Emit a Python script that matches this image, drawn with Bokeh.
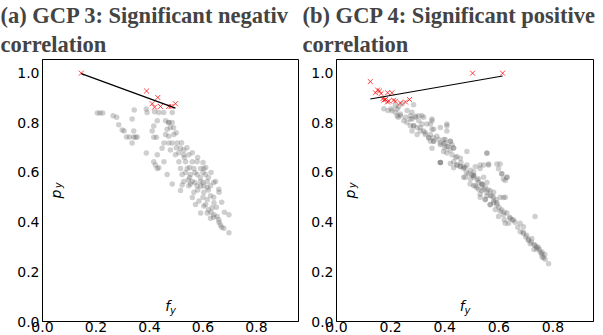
import numpy as np
from bokeh.plotting import figure
from bokeh.layouts import row
from bokeh.models import Title, FixedTicker, PrintfTickFormatter, Range1d
from bokeh.embed import file_html
from bokeh.resources import INLINE
from bokeh.core.properties import value

# ---------------- data: panel (a) GCP 3 ----------------
a_gray_x = [0.205, 0.215, 0.225, 0.264, 0.277, 0.285, 0.298, 0.305, 0.314, 0.325, 0.341, 0.348, 0.354,
            0.335, 0.335, 0.343, 0.341, 0.388, 0.388, 0.391, 0.41, 0.416, 0.426, 0.416, 0.429,
            0.419, 0.435, 0.453, 0.485, 0.472, 0.429, 0.416, 0.422, 0.435,
            0.46, 0.472, 0.485, 0.478, 0.466, 0.491, 0.472, 0.46, 0.454, 0.472, 0.485, 0.504,
            0.447, 0.478, 0.516, 0.528, 0.497, 0.528, 0.547, 0.454, 0.51, 0.535, 0.56, 0.578,
            0.429, 0.516, 0.541, 0.566, 0.591, 0.603, 0.466, 0.522, 0.553, 0.578, 0.609,
            0.528, 0.56, 0.591, 0.616, 0.647, 0.547, 0.578, 0.603, 0.628,
            0.485, 0.522, 0.553, 0.591, 0.616, 0.659, 0.516, 0.566, 0.603, 0.628,
            0.56, 0.585, 0.616, 0.641, 0.572, 0.603, 0.634, 0.591, 0.616, 0.641, 0.653, 0.697,
            0.628, 0.659, 0.665, 0.678, 0.697,
            0.55, 0.57, 0.58, 0.6, 0.61, 0.62, 0.63, 0.64, 0.57, 0.59, 0.6, 0.62, 0.55, 0.53, 0.51,
            0.5, 0.535, 0.545, 0.66, 0.67, 0.6, 0.62, 0.64, 0.65, 0.5, 0.49, 0.52, 0.54, 0.56, 0.58,
            0.6, 0.61, 0.63, 0.64, 0.66, 0.67, 0.68]
a_gray_y = [0.84, 0.84, 0.84, 0.829, 0.822, 0.792, 0.771, 0.767, 0.743, 0.743, 0.743, 0.742, 0.743,
            0.719, 0.815, 0.852, 0.767, 0.678, 0.856, 0.842, 0.767, 0.742, 0.742, 0.787, 0.808,
            0.845, 0.842, 0.842, 0.842, 0.801, 0.671, 0.643, 0.63, 0.619,
            0.808, 0.801, 0.801, 0.781, 0.774, 0.753, 0.746, 0.753, 0.719, 0.719, 0.719, 0.719,
            0.698, 0.691, 0.698, 0.691, 0.671, 0.671, 0.671, 0.643, 0.643, 0.643, 0.643, 0.643,
            0.616, 0.616, 0.616, 0.616, 0.616, 0.616, 0.592, 0.592, 0.592, 0.592, 0.592,
            0.564, 0.564, 0.564, 0.564, 0.564, 0.547, 0.547, 0.547, 0.547,
            0.554, 0.55, 0.554, 0.545, 0.54, 0.533, 0.527, 0.52, 0.52, 0.506,
            0.499, 0.485, 0.49, 0.478, 0.471, 0.465, 0.458, 0.437, 0.437, 0.43, 0.423, 0.43,
            0.416, 0.41, 0.389, 0.375, 0.357,
            0.58, 0.56, 0.53, 0.5, 0.47, 0.45, 0.44, 0.42, 0.6, 0.58, 0.56, 0.53, 0.62, 0.66, 0.68,
            0.7, 0.6, 0.57, 0.4, 0.38, 0.6, 0.58, 0.5, 0.46, 0.76, 0.78, 0.72, 0.7, 0.68, 0.66,
            0.64, 0.62, 0.6, 0.56, 0.52, 0.48, 0.44]
a_red_x = [0.145, 0.389, 0.41, 0.419, 0.431, 0.441, 0.472, 0.481, 0.497]
a_red_y = [1.0, 0.928, 0.877, 0.863, 0.902, 0.866, 0.866, 0.866, 0.877]

# ---------------- data: panel (b) GCP 4 ----------------
b_gray_x = [0.175, 0.19, 0.202, 0.218, 0.23, 0.224, 0.228, 0.236, 0.243, 0.285, 0.261, 0.279,
            0.255, 0.273, 0.292, 0.304, 0.316, 0.273, 0.285, 0.298, 0.316, 0.353, 0.408,
            0.31, 0.328, 0.347, 0.341, 0.359, 0.371, 0.359, 0.384, 0.396, 0.402, 0.421, 0.408,
            0.433, 0.427, 0.396, 0.414, 0.384, 0.384, 0.384,
            0.421, 0.445, 0.458, 0.433, 0.47, 0.476, 0.488, 0.507, 0.476, 0.531, 0.562, 0.556,
            0.593, 0.605, 0.599, 0.611, 0.617, 0.63, 0.494, 0.513, 0.525, 0.537,
            0.531, 0.55, 0.568, 0.581, 0.593, 0.581, 0.605, 0.624,
            0.322, 0.334, 0.322, 0.353, 0.359, 0.384, 0.408, 0.408, 0.341, 0.359, 0.378, 0.384,
            0.402, 0.421, 0.433, 0.396, 0.408, 0.427, 0.445, 0.458, 0.482, 0.556, 0.562,
            0.433, 0.445, 0.458, 0.47, 0.482, 0.495, 0.507, 0.513, 0.531, 0.544,
            0.47, 0.495, 0.507, 0.525, 0.537, 0.556, 0.544, 0.568, 0.574, 0.556,
            0.507, 0.525, 0.537, 0.519, 0.507, 0.544, 0.611, 0.624, 0.63,
            0.531, 0.556, 0.568, 0.55, 0.581, 0.593, 0.568, 0.617,
            0.587, 0.605, 0.617, 0.63, 0.599, 0.642, 0.654, 0.636, 0.624, 0.679, 0.691, 0.734,
            0.679, 0.691, 0.703, 0.709, 0.722, 0.716, 0.734, 0.74, 0.746, 0.753, 0.759, 0.765,
            0.771, 0.784,
            0.205, 0.218, 0.236, 0.224, 0.273, 0.279, 0.292, 0.304, 0.249, 0.261, 0.285, 0.31,
            0.279, 0.298, 0.328, 0.347, 0.353, 0.347, 0.353,
            0.6, 0.61, 0.62, 0.64, 0.65, 0.66, 0.72, 0.73, 0.74, 0.75, 0.76, 0.77, 0.71, 0.7,
            0.48, 0.5, 0.52, 0.54, 0.56, 0.58, 0.59, 0.46, 0.44, 0.42, 0.4, 0.73, 0.76, 0.62,
            0.67, 0.69, 0.55]
b_gray_y = [0.857, 0.85, 0.857, 0.87, 0.865, 0.829, 0.822, 0.829, 0.877, 0.873, 0.85, 0.843,
            0.822, 0.815, 0.826, 0.808, 0.795, 0.788, 0.788, 0.781, 0.829, 0.815, 0.795,
            0.767, 0.76, 0.753, 0.74, 0.74, 0.746, 0.726, 0.719, 0.733, 0.733, 0.726, 0.705,
            0.7, 0.712, 0.716, 0.705, 0.64, 0.64, 0.64,
            0.636, 0.63, 0.625, 0.619, 0.622, 0.62, 0.595, 0.588, 0.581, 0.63, 0.634, 0.677,
            0.634, 0.634, 0.615, 0.595, 0.574, 0.581, 0.554, 0.547, 0.533, 0.526,
            0.5, 0.49, 0.47, 0.478, 0.47, 0.52, 0.5, 0.5,
            0.822, 0.795, 0.767, 0.808, 0.774, 0.781, 0.788, 0.767, 0.74, 0.726, 0.733, 0.712,
            0.719, 0.726, 0.698, 0.685, 0.678, 0.671, 0.664, 0.657, 0.685, 0.678, 0.63,
            0.643, 0.63, 0.623, 0.616, 0.63, 0.609, 0.602, 0.623, 0.616, 0.63,
            0.581, 0.574, 0.581, 0.56, 0.554, 0.56, 0.533, 0.526, 0.506, 0.506,
            0.588, 0.575, 0.554, 0.54, 0.547, 0.581, 0.595, 0.568, 0.581,
            0.513, 0.52, 0.506, 0.492, 0.485, 0.478, 0.471, 0.499,
            0.451, 0.444, 0.43, 0.437, 0.423, 0.416, 0.409, 0.396, 0.396, 0.396, 0.382, 0.423,
            0.361, 0.354, 0.347, 0.327, 0.334, 0.313, 0.306, 0.292, 0.299, 0.279, 0.272, 0.258,
            0.251, 0.233,
            0.849, 0.843, 0.836, 0.856, 0.829, 0.815, 0.822, 0.829, 0.808, 0.801, 0.788, 0.781,
            0.767, 0.753, 0.753, 0.795, 0.774, 0.726, 0.698,
            0.46, 0.45, 0.44, 0.42, 0.41, 0.4, 0.32, 0.31, 0.3, 0.29, 0.28, 0.27, 0.33, 0.34,
            0.6, 0.59, 0.57, 0.55, 0.53, 0.5, 0.49, 0.64, 0.66, 0.69, 0.7, 0.29, 0.26, 0.41,
            0.38, 0.36, 0.54]
b_red_x = [0.125, 0.144, 0.152, 0.159, 0.165, 0.172, 0.181, 0.189, 0.189, 0.205, 0.175,
           0.193, 0.211, 0.218, 0.236, 0.255, 0.27, 0.503, 0.614]
b_red_y = [0.966, 0.921, 0.932, 0.928, 0.918, 0.898, 0.894, 0.884, 0.921, 0.921, 0.891,
           0.888, 0.891, 0.887, 0.880, 0.884, 0.894, 1.0, 1.0]

x_ticks = [0.0, 0.2, 0.4, 0.6, 0.8]
y_ticks = [0.0, 0.2, 0.4, 0.6, 0.8, 1.0]

title_a = ["(a) GCP 3: Significant negativ", "correlation"]
title_b = ["(b) GCP 4: Significant positive", "correlation"]

H = 334


def make_panel(gx, gy, rx, ry, titles, width, xmax, bl, br, toff):
    p = figure(width=width, height=H, output_backend="svg", toolbar_location=None,
               x_range=Range1d(0, xmax), y_range=Range1d(0, 1.055),
               min_border_left=bl, min_border_right=br, min_border_top=0,
               min_border_bottom=0)
    p.add_layout(Title(text=titles[1], text_font="Liberation Serif", text_font_size="22.5px",
                       text_font_style="bold", align="left", offset=toff, standoff=5), "above")
    p.add_layout(Title(text=titles[0], text_font="Liberation Serif", text_font_size="22.5px",
                       text_font_style="bold", align="left", offset=toff, standoff=0), "above")
    p.xgrid.visible = False
    p.ygrid.visible = False
    p.outline_line_color = "black"
    p.outline_line_alpha = 1
    for ax in (p.xaxis[0], p.yaxis[0]):
        ax.major_tick_out = 0
        ax.major_tick_in = 0
        ax.minor_tick_out = 0
        ax.minor_tick_in = 0
        ax.axis_line_color = "black"
        ax.major_label_text_font = "DejaVu Sans"
        ax.major_label_text_font_size = "14px"
        ax.major_label_text_color = "black"
        ax.formatter = PrintfTickFormatter(format="%.1f")
    p.xaxis[0].ticker = FixedTicker(ticks=x_ticks)
    p.yaxis[0].ticker = FixedTicker(ticks=y_ticks)
    p.xaxis[0].major_label_standoff = 0
    p.yaxis[0].major_label_standoff = 3

    p.scatter(gx, gy, size=5.5, color="#606060", alpha=0.3, line_width=0)
    p.scatter(rx, ry, marker="x", size=7, line_color="red", line_alpha=0.75, line_width=1)
    k, b = np.polyfit(np.array(rx), np.array(ry), 1)
    lx = np.array([min(rx), max(rx)])
    p.line(lx, k * lx + b, line_color="black", line_width=1.2)

    # axis labels drawn inside the frame
    xc = 0.5 * xmax
    p.text([xc - 0.01], [0.062], text=["f"], text_font=value("DejaVu Sans"),
           text_font_style="italic", text_font_size="14px", text_align="center",
           text_baseline="middle", text_color="black")
    p.text([xc + 0.009], [0.045], text=["y"], text_font=value("DejaVu Sans"),
           text_font_style="italic", text_font_size="10px", text_align="center",
           text_baseline="middle", text_color="black")
    p.text([0.049], [0.513], text=["p"], text_font=value("DejaVu Sans"),
           text_font_style="italic", text_font_size="14px", text_align="center",
           text_baseline="middle", text_color="black", angle=np.pi / 2)
    p.text([0.058], [0.548], text=["y"], text_font=value("DejaVu Sans"),
           text_font_style="italic", text_font_size="10px", text_align="center",
           text_baseline="middle", text_color="black", angle=np.pi / 2)
    return p


p1 = make_panel(a_gray_x, a_gray_y, a_red_x, a_red_y, title_a, 302, 0.957, 42, 4, -42)
p2 = make_panel(b_gray_x, b_gray_y, b_red_x, b_red_y, title_b, 301, 0.95, 34, 10, -34)

layout = row(p1, p2)
open("out.html", "w").write(file_html(layout, INLINE))
